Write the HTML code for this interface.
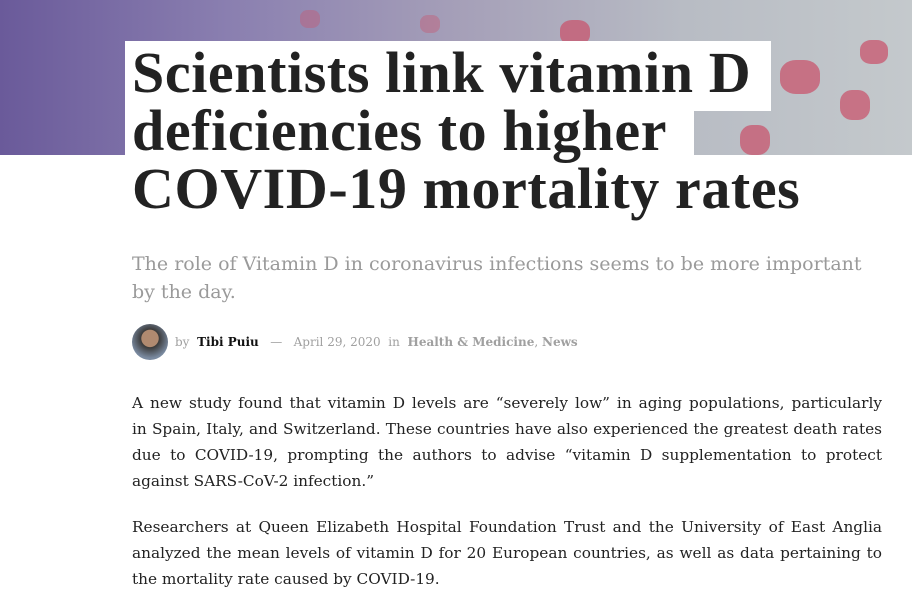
<!DOCTYPE html>
<html><head><meta charset="utf-8"><style>
*{margin:0;padding:0;box-sizing:border-box}
body{width:912px;height:597px;overflow:hidden;background:#fff;position:relative;font-family:"DejaVu Serif",serif}
.hero{position:absolute;left:0;top:0;width:912px;height:155px;background:linear-gradient(90deg,#6a5a9a 0%,#8a7fb0 25%,#a59fb8 50%,#b8bcc4 75%,#c4c9cc 100%);overflow:hidden}
.dot{position:absolute;background:#c8566e;border-radius:40%;opacity:.75}
.box1{position:absolute;left:125px;top:41px;width:646px;height:70px;background:#fff}
.box2{position:absolute;left:125px;top:110px;width:569px;height:50px;background:#fff}
h1{position:absolute;left:132px;top:44px;font-family:"Liberation Serif",serif;font-size:58px;line-height:58px;font-weight:bold;color:#222;letter-spacing:0.6px;white-space:nowrap}
.sub{position:absolute;left:132px;top:250px;width:750px;font-size:19px;line-height:28px;color:#9a9a9a}
.meta{position:absolute;left:132px;top:324px;height:36px;font-size:12px;color:#a0a0a0;display:flex;align-items:center;white-space:nowrap}
.av{width:36px;height:36px;border-radius:50%;background:radial-gradient(circle at 50% 40%,#b08a70 0 30%,#3a3a3a 32%,#7a8aa0 70%);margin-right:7px}
.p{position:absolute;left:132px;width:750px;font-size:15.3px;line-height:26px;color:#222}
.p div{text-align:justify;text-align-last:justify;white-space:nowrap}
.p div.l{text-align-last:left}
</style></head><body>
<div class="hero">
<div class="dot" style="left:560px;top:20px;width:30px;height:25px"></div>
<div class="dot" style="left:610px;top:60px;width:22px;height:20px"></div>
<div class="dot" style="left:780px;top:60px;width:40px;height:34px"></div>
<div class="dot" style="left:840px;top:90px;width:30px;height:30px"></div>
<div class="dot" style="left:740px;top:125px;width:30px;height:30px"></div>
<div class="dot" style="left:860px;top:40px;width:28px;height:24px"></div>
<div class="dot" style="left:300px;top:10px;width:20px;height:18px;opacity:.4"></div>
<div class="dot" style="left:420px;top:15px;width:20px;height:18px;opacity:.4"></div>
</div>
<div class="box1"></div><div class="box2"></div>
<h1>Scientists link vitamin D<br>deficiencies to higher<br>COVID-19 mortality rates</h1>
<div class="sub">The role of Vitamin D in coronavirus infections seems to be more important by the day.</div>
<div class="meta"><div class="av"></div>by&nbsp;&nbsp;<b style="color:#111">Tibi Puiu</b>&nbsp;&nbsp;&nbsp;—&nbsp;&nbsp;&nbsp;April 29, 2020&nbsp;&nbsp;in&nbsp;&nbsp;<b>Health &amp; Medicine</b>,&nbsp;<b>News</b></div>
<div class="p" style="top:390px">
<div>A new study found that vitamin D levels are “severely low” in aging populations, particularly</div>
<div>in Spain, Italy, and Switzerland. These countries have also experienced the greatest death rates</div>
<div>due to COVID-19, prompting the authors to advise “vitamin D supplementation to protect</div>
<div class="l">against SARS-CoV-2 infection.”</div>
</div>
<div class="p" style="top:514px">
<div>Researchers at Queen Elizabeth Hospital Foundation Trust and the University of East Anglia</div>
<div>analyzed the mean levels of vitamin D for 20 European countries, as well as data pertaining to</div>
<div class="l">the mortality rate caused by COVID-19.</div>
</div>
</body></html>
